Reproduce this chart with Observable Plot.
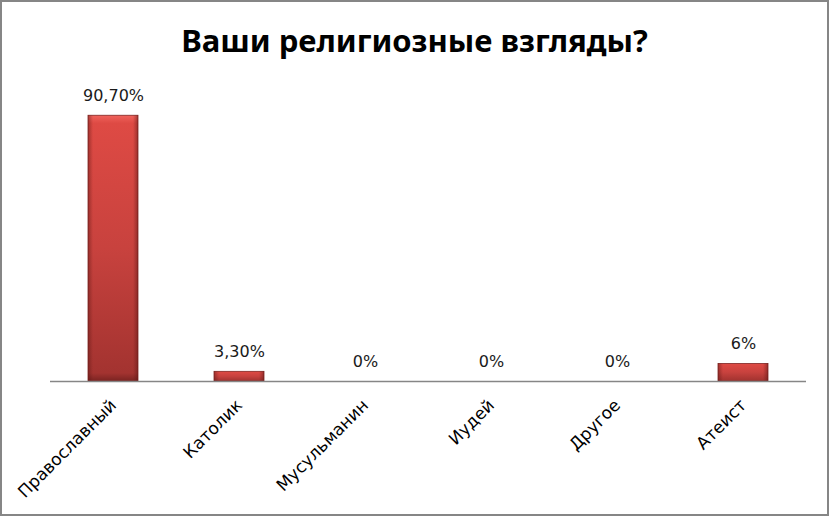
<!DOCTYPE html>
<html>
<head>
<meta charset="utf-8">
<script src="https://cdn.jsdelivr.net/npm/d3@7"></script>
<script src="https://cdn.jsdelivr.net/npm/@observablehq/plot@0.6"></script>
<style>
  html, body { margin: 0; padding: 0; background: #fff; }
  #frame {
    position: relative;
    width: 829px; height: 516px;
    border: 2px solid #868686;
    box-sizing: border-box;
    background: #fff;
    overflow: hidden;
  }
  #title {
    height: 70px;
    box-sizing: border-box;
    padding-top: 20px;
    text-align: center;
    font-family: "Noto Sans", sans-serif;
    font-weight: bold;
    font-size: 31px;
    line-height: 36px;
    color: #000;
  }
</style>
</head>
<body>
<div id="frame">
  <div id="title">Ваши религиозные взгляды?</div>
  <div id="chart"></div>
</div>
<script>
const categories = ["Православный", "Католик", "Мусульманин", "Иудей", "Другое", "Атеист"];
const values = [90.7, 3.3, 0, 0, 0, 6];
const valueLabels = ["90,70%", "3,30%", "0%", "0%", "0%", "6%"];

const data = categories.map((c, i) => ({category: c, value: values[i], label: valueLabels[i]}));

const chart = Plot.plot({
  width: 825,
  height: 442,
  marginLeft: 48,
  marginRight: 21,
  marginTop: 16,
  marginBottom: 133,
  style: {fontFamily: "DejaVu Sans, sans-serif", fontSize: "16px", color: "#000", background: "transparent"},
  x: {domain: categories, paddingInner: 0.6, paddingOuter: 0.3, label: null},
  y: {domain: [0, 100], axis: null},
  marks: [
    Plot.barY(data, {
      x: "category", y: "value",
      fill: "url(#barGrad)", stroke: "#7e2522", strokeWidth: 0.8,
      filter: d => d.value > 0
    }),
    Plot.barY(data, {
      x: "category", y: "value",
      fill: "url(#sideGrad)",
      filter: d => d.value > 0
    }),
    Plot.ruleY([0], {stroke: "#868686", strokeWidth: 1.5}),
    Plot.text(data, {
      x: "category", y: "value", text: "label",
      dy: -20, fontSize: 16, fill: "#1a1a1a"
    }),
    Plot.axisX({
      tickSize: 0, tickPadding: 21, tickRotate: -45,
      fontSize: 17, fill: "#000", label: null, dx: 0
    })
  ]
});

// gradient definitions for bevelled bars
const ns = "http://www.w3.org/2000/svg";
const defs = document.createElementNS(ns, "defs");
defs.innerHTML = `
  <linearGradient id="barGrad" x1="0" y1="0" x2="0" y2="1">
    <stop offset="0%" stop-color="#f0635c"/>
    <stop offset="3%" stop-color="#de4a44"/>
    <stop offset="50%" stop-color="#c8423e"/>
    <stop offset="97%" stop-color="#a33330"/>
    <stop offset="100%" stop-color="#7a2321"/>
  </linearGradient>
  <linearGradient id="sideGrad" x1="0" y1="0" x2="1" y2="0">
    <stop offset="0%" stop-color="#5a1513" stop-opacity="0.45"/>
    <stop offset="10%" stop-color="#5a1513" stop-opacity="0.0"/>
    <stop offset="90%" stop-color="#5a1513" stop-opacity="0.0"/>
    <stop offset="100%" stop-color="#5a1513" stop-opacity="0.5"/>
  </linearGradient>`;
chart.insertBefore(defs, chart.firstChild);

document.getElementById("chart").appendChild(chart);
</script>
</body>
</html>
